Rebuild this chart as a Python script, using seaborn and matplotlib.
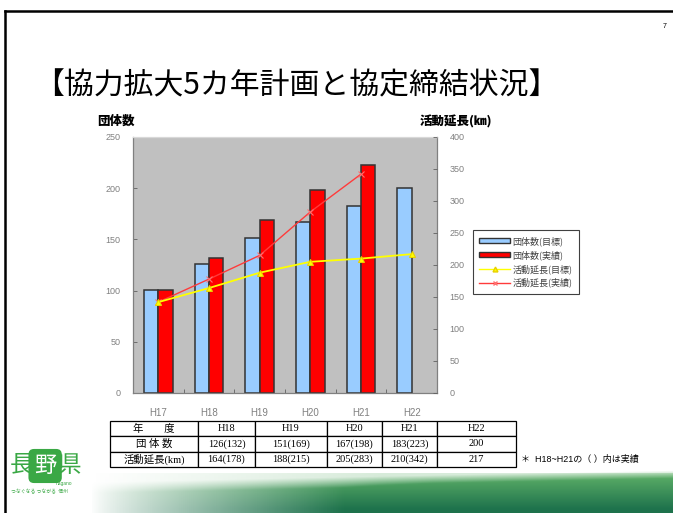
import numpy as np
import pandas as pd
import matplotlib
matplotlib.use("Agg")
import matplotlib.pyplot as plt
from matplotlib.patches import Patch
from matplotlib.lines import Line2D
from matplotlib.ticker import FixedLocator, MultipleLocator
import seaborn as sns

# ---------------- data ----------------
years = ["H17", "H18", "H19", "H20", "H21", "H22"]
groups_target = [101, 126, 151, 167, 183, 200]
groups_actual = [101, 132, 169, 198, 223, None]
km_target = [142, 164, 188, 205, 210, 217]
km_actual = [142, 178, 215, 283, 342, None]
series_names = ["団体数(目標)", "団体数(実績)", "活動延長(目標)", "活動延長(実績)"]
table_years = ["H18", "H19", "H20", "H21", "H22"]
row_labels = ["年　　度", "団 体 数", "活動延長(km)"]

plt.rcParams['font.family'] = ['Liberation Sans', 'Noto Sans CJK JP']
CJK = ['Noto Sans CJK JP', 'DejaVu Sans']

W, H = 673, 513
fig = plt.figure(figsize=(W / 100, H / 100), dpi=100)
fig.patch.set_facecolor('white')

def fx(px):
    return px / W

def fy(py):
    return 1 - py / H

def nz(v):
    return np.nan if v is None else v

# ---------------- green band at bottom ----------------
band = fig.add_axes([fx(90), fy(513), fx(673) - fx(90), fy(470) - fy(513)])
nx, ny = 300, 43
xs = np.linspace(0, 1, nx)[None, :]
ys = np.linspace(0, 1, ny)[:, None]
img = np.zeros((ny, nx, 4))
top = np.array([0.40, 0.72, 0.42])
bot = np.array([0.12, 0.45, 0.30])
mix = np.clip(ys * 1.1, 0, 1)[..., None]
col = top * (1 - mix) + bot * mix
img[..., :3] = col * np.ones((ny, nx, 1))
alpha = np.clip((xs - 0.0) * 1.7, 0, 1) ** 0.8
alpha = alpha * np.clip((ys - (0.30 - 0.28 * xs)) * 4, 0, 1)
alpha = np.clip(alpha + 0.25 * np.clip(xs * 2, 0, 1) * (ys > 0.08), 0, 1)
img[..., 3] = alpha
band.imshow(img, aspect='auto', extent=[0, 1, 0, 1], origin='upper')
band.axis('off')

# ---------------- slide border ----------------
fig.add_artist(Line2D([fx(5), fx(673)], [fy(11), fy(11)], color='black', lw=1.8))
fig.add_artist(Line2D([fx(5), fx(5)], [fy(11), fy(513)], color='black', lw=1.8))

# ---------------- title ----------------
fig.text(fx(34), fy(86), "【協力拡大5カ年計画と協定締結状況】", family=CJK,
         fontsize=21.5, va='center', ha='left', color='black')
fig.text(fx(665), fy(27), "7", fontsize=5, ha='center', va='center')

# ---------------- main chart ----------------
ax = fig.add_axes([fx(133), fy(393), fx(437) - fx(133), fy(137) - fy(393)])
df = pd.DataFrame({
    "year": years * 2,
    "series": [series_names[0]] * len(years) + [series_names[1]] * len(years),
    "value": [nz(v) for v in groups_target + groups_actual],
})
sns.barplot(data=df, x="year", y="value", hue="series", ax=ax,
            palette=["#99CCFF", "#FF0000"], width=0.57, legend=False,
            edgecolor="#333333", linewidth=1.1, saturation=1)
ax.set_facecolor("#C0C0C0")
ax.set_xlim(-0.5, len(years) - 0.5)
ax.set_ylim(0, 250)
ax.yaxis.set_major_locator(MultipleLocator(50))
ax.set_xlabel("")
ax.set_ylabel("")
ax.tick_params(axis='y', direction='in', length=3, width=0.6, color='#606060',
               labelsize=6.5, labelcolor='#808080', pad=9)
ax.tick_params(axis='x', which='major', length=0, labelsize=7, labelcolor='#808080', pad=11)
ax.xaxis.set_minor_locator(FixedLocator(np.arange(len(years) - 1) + 0.5))
ax.tick_params(axis='x', which='minor', direction='in', length=3, width=0.6, color='#606060')
for s in ax.spines.values():
    s.set_color('#808080')
    s.set_linewidth(0.9)
ax.spines['top'].set_color('#d8d8d8')

ax2 = ax.twinx()
xpos = np.arange(len(years))
sns.lineplot(x=xpos, y=[nz(v) for v in km_actual], ax=ax2, color="#FF3B3B", lw=1.0,
             marker='x', markersize=4, markeredgecolor="#FF7070", markeredgewidth=0.8)
sns.lineplot(x=xpos, y=km_target, ax=ax2, color="#FFFF00", lw=1.3,
             marker='^', markersize=5, markerfacecolor="#FFFF00", markeredgecolor="#E8D000")
ax2.set_ylim(0, 400)
ax2.yaxis.set_major_locator(MultipleLocator(50))
ax2.tick_params(axis='y', direction='in', length=3, width=0.6, color='#606060',
                labelsize=6.5, labelcolor='#808080', pad=9)
ax2.set_ylabel("")
for s in ax2.spines.values():
    s.set_visible(False)

fig.text(fx(116), fy(121), "団体数", family=CJK, fontsize=9, fontweight='black',
         ha='center', va='center')
fig.text(fx(456), fy(121), "活動延長(㎞)", family=CJK, fontsize=9, fontweight='black',
         ha='center', va='center')

# ---------------- legend ----------------
handles = [
    Patch(facecolor="#99CCFF", edgecolor="#333333", lw=1.0),
    Patch(facecolor="#FF0000", edgecolor="#333333", lw=1.0),
    Line2D([], [], color="#FFFF00", lw=1.0, marker='^', markersize=3.5,
           markeredgecolor="#E8D000"),
    Line2D([], [], color="#FF3B3B", lw=1.0, marker='x', markersize=3.5,
           markeredgecolor="#FF7070"),
]
leg = fig.legend(handles, series_names, loc='upper left',
                 bbox_to_anchor=(fx(473), fy(230)), prop={'family': CJK, 'size': 6.5},
                 frameon=True, fancybox=False, edgecolor='#404040', framealpha=1,
                 handlelength=3.4, handleheight=0.45, handletextpad=0.3,
                 labelspacing=0.45, borderpad=0.7, borderaxespad=0)
leg.get_frame().set_linewidth(0.8)
for t in leg.get_texts():
    t.set_color('#404040')

# ---------------- data table ----------------
tax = fig.add_axes([fx(110), fy(467), fx(516) - fx(110), fy(421) - fy(467)])
tax.axis('off')

def fmt(t, a):
    return f"{t}" if a is None else f"{t}({a})"

cell_text = [
    [row_labels[0]] + table_years,
    [row_labels[1]] + [fmt(t, a) for t, a in zip(groups_target[1:], groups_actual[1:])],
    [row_labels[2]] + [fmt(t, a) for t, a in zip(km_target[1:], km_actual[1:])],
]
col_w = [88, 57, 72, 55, 55, 79]
col_w = [c / sum(col_w) for c in col_w]
tbl = tax.table(cellText=cell_text, colWidths=col_w, cellLoc='center',
                bbox=[0, 0, 1, 1])
tbl.auto_set_font_size(False)
for (r, c), cell in tbl.get_celld().items():
    cell.set_linewidth(0.9)
    cell.set_edgecolor('black')
    cell.get_text().set_fontsize(7.5)
    cell.get_text().set_fontfamily(['Liberation Serif', 'Noto Sans CJK JP'])

fig.text(fx(521), fy(459), "＊  H18~H21の（ ）内は実績", family=['Liberation Sans', 'Noto Sans CJK JP'],
         fontsize=6.5, ha='left', va='center')

# ---------------- logo ----------------
fig.text(fx(10), fy(465), "長", family=CJK, fontsize=17, color='#3aa845', ha='left', va='center')
fig.text(fx(34), fy(466), "野", family=CJK, fontsize=16, color='white', ha='left', va='center',
         bbox=dict(boxstyle='round,pad=0.25', facecolor='#3aa845', edgecolor='none'))
fig.text(fx(58), fy(465), "県", family=CJK, fontsize=17, color='#3aa845', ha='left', va='center')
fig.text(fx(56), fy(484), "nagano", fontsize=3.5, color='#3aa845', ha='left', va='center')
fig.text(fx(11), fy(492), "つなぐなる つながる  信州", family=CJK, fontsize=3.5,
         color='#3aa845', ha='left', va='center')

fig.savefig("out.png", dpi=100, facecolor='white')
